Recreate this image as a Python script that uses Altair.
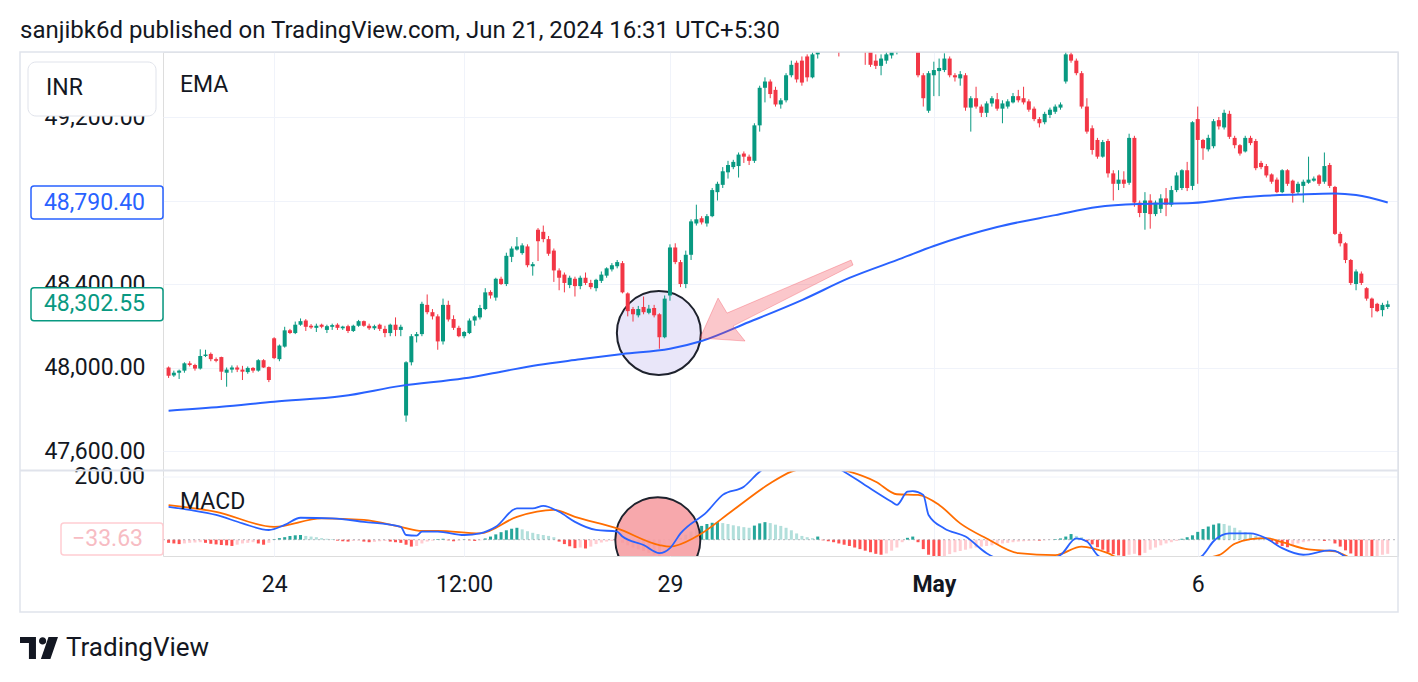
import altair as alt
import pandas as pd

# ---------------- data (15-minute candles, Apr 23 - May 7) ----------------
opens = [
    # Apr 23
    48000, 47962, 47975, 47985, 48020, 48012, 47995, 48055, 48065, 48040,
    48050, 47975, 47990, 48000, 47990, 47978, 47998, 47985, 48035, 48002,
    # Apr 24
    48140, 48040, 48100, 48178, 48165, 48205, 48225, 48200, 48190, 48205,
    48180, 48195, 48205, 48188, 48198, 48175, 48200, 48222, 48200, 48188,
    48205, 48185, 48165, 48205, 48180,
    # Apr 25
    47770, 48025, 48150, 48160, 48300, 48265, 48245, 48125, 48300, 48232,
    48190, 48150, 48165, 48225, 48240, 48280, 48362, 48335, 48425, 48400,
    48530, 48565, 48548, 48580, 48485,
    # Apr 26
    48660, 48650, 48615, 48560, 48465, 48445, 48395, 48425, 48390, 48430,
    48405, 48380, 48415, 48440, 48470, 48485, 48500, 48355, 48280, 48250,
    48290, 48262, 48285, 48255, 48145,
    # Apr 29
    48345, 48575, 48505, 48400, 48540, 48690, 48715, 48690, 48725, 48840,
    48875, 48935, 48960, 48965, 49025, 49010, 48990, 49160, 49340, 49370,
    49330, 49260, 49280, 49400, 49460,
    # Apr 30
    49470, 49490, 49390, 49500, 49540, 49580, 49600, 49590, 49560, 49600,
    49620, 49600, 49580, 49530, 49470, 49445, 49470, 49495, 49520, 49560,
    49580, 49570, 49520, 49400, 49230,
    # May 2
    49400, 49420, 49425, 49480, 49400, 49385, 49400, 49245, 49290, 49250,
    49220, 49265, 49285, 49240, 49250, 49270, 49300, 49290, 49275, 49240,
    49190, 49175, 49210, 49225, 49245,
    # May 3
    49370, 49500, 49470, 49410, 49250, 49146, 49090, 49010, 49085, 48930,
    48880, 48900, 48885, 49100, 48790, 48740, 48800, 48735, 48760, 48810,
    48780, 48850, 48860, 48945, 48870,
    # May 6
    49190, 49090, 49045, 49060, 49185, 49150, 49215, 49100, 49065, 49035,
    49100, 49085, 48980, 48965, 48925, 48900, 48840, 48945, 48895, 48840,
    48870, 48885, 48895, 48920, 48890,
    # May 7
    48970, 48865, 48640, 48595, 48515, 48400, 48450, 48380, 48330, 48305,
    48275, 48290,
]
highs = [
    48005, 47985, 47990, 48025, 48030, 48018, 48087, 48085, 48072, 48048,
    48052, 48000, 48010, 48010, 48008, 48005, 48002, 48040, 48040, 48005,
    48145, 48110, 48195, 48185, 48220, 48235, 48232, 48208, 48210, 48210,
    48205, 48210, 48212, 48200, 48205, 48205, 48228, 48225, 48210, 48205,
    48210, 48200, 48210, 48240, 48205,
    48030, 48160, 48170, 48315, 48350, 48280, 48255, 48330, 48320, 48250,
    48200, 48175, 48235, 48250, 48300, 48380, 48370, 48430, 48435, 48550,
    48580, 48625, 48595, 48590, 48505,
    48668, 48680, 48630, 48570, 48475, 48455, 48440, 48435, 48440, 48455,
    48420, 48425, 48460, 48480, 48500, 48515, 48510, 48360, 48290, 48295,
    48340, 48300, 48300, 48260, 48345,
    48590, 48595, 48515, 48560, 48710, 48780, 48725, 48735, 48860, 48890,
    48960, 48990, 48995, 49030, 49035, 49020, 49170, 49350, 49390, 49380,
    49345, 49290, 49410, 49470, 49470,
    49490, 49500, 49560, 49600, 49610, 49630, 49640, 49620, 49620, 49650,
    49660, 49630, 49600, 49560, 49500, 49500, 49520, 49540, 49590, 49610,
    49620, 49600, 49540, 49410, 49420,
    49465, 49480, 49505, 49490, 49410, 49420, 49410, 49300, 49345, 49260,
    49275, 49300, 49315, 49280, 49285, 49315, 49330, 49345, 49285, 49250,
    49200, 49225, 49245, 49260, 49270,
    49560, 49560, 49480, 49420, 49290, 49160, 49100, 49090, 49095, 48945,
    48945, 48940, 49120, 49110, 48800, 48840, 48830, 48800, 48830, 48860,
    48870, 48935, 48950, 48985, 49180,
    49250, 49095, 49115, 49190, 49200, 49235, 49230, 49110, 49070, 49110,
    49110, 49095, 48990, 48975, 48930, 48910, 48950, 48950, 48900, 48890,
    48900, 49010, 48915, 48925, 49030,
    48980, 48870, 48650, 48600, 48520, 48470, 48460, 48385, 48335, 48310,
    48310, 48320,
]
lows = [
    47950, 47955, 47945, 47975, 48005, 47985, 47990, 48050, 48030, 48025,
    47940, 47908, 47975, 47978, 47940, 47970, 47975, 47980, 47998, 47930,
    48040, 48030, 48095, 48160, 48160, 48200, 48175, 48185, 48170, 48188,
    48165, 48180, 48180, 48180, 48165, 48170, 48195, 48195, 48180, 48180,
    48175, 48145, 48150, 48150, 48150,
    47740, 48010, 48120, 48150, 48255, 48230, 48085, 48110, 48220, 48180,
    48145, 48140, 48160, 48200, 48230, 48275, 48330, 48320, 48395, 48390,
    48505, 48560, 48540, 48480, 48440,
    48510, 48600, 48535, 48410, 48370, 48360, 48380, 48340, 48375, 48395,
    48375, 48365, 48405, 48430, 48460, 48475, 48355, 48245, 48220, 48240,
    48255, 48255, 48240, 48090, 48140,
    48320, 48495, 48385, 48380, 48515, 48680, 48685, 48675, 48720, 48800,
    48860, 48905, 48950, 48910, 48980, 48970, 48980, 49130, 49270, 49290,
    49250, 49240, 49270, 49390, 49365,
    49350, 49370, 49385, 49480, 49525, 49550, 49560, 49490, 49540, 49580,
    49580, 49550, 49450, 49440, 49430, 49400, 49455, 49480, 49500, 49540,
    49540, 49510, 49390, 49250, 49220,
    49300, 49300, 49415, 49390, 49370, 49350, 49230, 49130, 49240, 49200,
    49200, 49250, 49230, 49170, 49240, 49265, 49270, 49260, 49225, 49180,
    49150, 49165, 49195, 49215, 49235,
    49360, 49460, 49400, 49240, 49120, 49020, 49000, 49005, 48910, 48800,
    48850, 48860, 48875, 48770, 48720, 48660, 48665, 48725, 48740, 48725,
    48770, 48840, 48850, 48845, 48850,
    48880, 48995, 49035, 49050, 49140, 49140, 49095, 49050, 49015, 49030,
    49065, 48945, 48950, 48910, 48880, 48835, 48835, 48870, 48790, 48830,
    48790, 48880, 48890, 48870, 48880,
    48860, 48635, 48580, 48500, 48395, 48370, 48395, 48320, 48240, 48265,
    48245, 48280,
]
closes = [
    47960, 47975, 47985, 48020, 48012, 47995, 48055, 48062, 48040, 48032,
    47980, 47990, 48000, 47990, 47980, 47998, 47985, 48035, 48000, 47940,
    48045, 48105, 48178, 48165, 48205, 48222, 48195, 48192, 48200, 48195,
    48198, 48203, 48190, 48196, 48175, 48200, 48222, 48200, 48188, 48198,
    48185, 48165, 48205, 48180, 48195,
    48025, 48150, 48160, 48305, 48265, 48245, 48125, 48300, 48230, 48190,
    48150, 48170, 48225, 48245, 48285, 48360, 48345, 48425, 48400, 48535,
    48570, 48580, 48585, 48490, 48495,
    48605, 48615, 48545, 48465, 48430, 48405, 48430, 48390, 48430, 48405,
    48385, 48420, 48445, 48475, 48490, 48505, 48360, 48270, 48255, 48280,
    48265, 48282, 48250, 48145, 48330,
    48575, 48505, 48400, 48540, 48700, 48710, 48695, 48725, 48850, 48880,
    48940, 48970, 48985, 49020, 49010, 48990, 49160, 49340, 49370, 49310,
    49260, 49280, 49400, 49450, 49380,
    49365, 49390, 49500, 49540, 49580, 49600, 49590, 49560, 49600, 49620,
    49600, 49580, 49540, 49450, 49445, 49480, 49500, 49520, 49560, 49580,
    49570, 49540, 49400, 49290, 49410,
    49425, 49435, 49480, 49400, 49390, 49405, 49245, 49290, 49250, 49220,
    49265, 49290, 49240, 49265, 49275, 49300, 49280, 49270, 49235, 49190,
    49170, 49215, 49235, 49250, 49260,
    49500, 49470, 49410, 49250, 49130, 49042, 49010, 49080, 48930, 48880,
    48900, 48880, 49100, 48790, 48740, 48800, 48735, 48790, 48810, 48780,
    48850, 48920, 48945, 48860, 49175,
    49090, 49050, 49100, 49180, 49155, 49220, 49105, 49065, 49025, 49100,
    49075, 48955, 48960, 48920, 48890, 48840, 48945, 48880, 48835, 48880,
    48890, 48900, 48905, 48880, 48965,
    48870, 48640, 48595, 48515, 48405, 48460, 48405, 48330, 48285, 48270,
    48300, 48302.55,
]

# EMA (read at selected bars)
ema_idx = [0, 10, 20, 33, 44, 56, 63, 70, 78, 86, 95, 101, 110, 120, 129, 139,
           145, 157, 168, 176, 184, 194, 204, 214, 221, 225, 231]
ema_val = [47793, 47812, 47836, 47863, 47912, 47948, 47980, 48012, 48039, 48065,
           48090, 48127, 48218, 48323, 48429, 48524, 48582, 48673, 48730, 48769,
           48783, 48788, 48817, 48829, 48834, 48826, 48790.4]

# MACD line and signal line (read at selected bars)
macd_idx = [0, 4, 9, 14, 19, 22, 25, 31, 37, 44, 45, 47, 48, 51, 56, 59, 62, 66,
            69, 71, 74, 77, 81, 85, 86, 90, 93, 95, 97, 102, 105, 109, 112, 116,
            120, 124, 128, 132, 137, 138, 140, 141, 143, 144, 147, 151, 155, 160,
            165, 169, 172, 174, 176, 180, 186, 192, 196, 198, 201, 205, 208, 211,
            215, 220, 221, 223, 226, 231]
macd_val = [105, 95, 79, 52, 31, 47, 70, 68, 57, 41, 15, 13, 26, 26, 15, 20, 41,
            100, 100, 108, 89, 57, 31, 26, 10, -17, -43, -27, 20, 89, 143, 169,
            217, 250, 262, 250, 217, 174, 121, 111, 153, 155, 143, 79, 36, 10,
            -43, -75, -70, -49, 4, -6, -49, -80, -95, -80, -49, -5, 20, 20, 4,
            -27, -48, -34, -36, -54, -75, -95]
signal_idx = [0, 9, 20, 29, 37, 44, 48, 51, 59, 66, 73, 77, 85, 93, 95, 100, 107,
              114, 118, 123, 129, 134, 138, 142, 146, 150, 155, 161, 168, 173, 178,
              180, 189, 199, 202, 205, 208, 211, 216, 221, 224, 231]
signal_val = [110, 89, 41, 68, 63, 41, 28, 28, 20, 73, 95, 73, 36, -17, -22, 10,
              95, 180, 217, 235, 217, 185, 145, 143, 111, 52, 4, -43, -49, -22,
              -43, -58, -75, -49, -13, 2, 5, -8, -31, -37, -58, -75]

# MACD histogram, one value per bar
hist_val = [
    -10, -12, -14, -12, -10, -9, -8, -10, -13, -15, -17, -18, -20, -16, -12, -10, -8, -12, -16, -10,
    2, 5, 8, 12, 14, 15, 12, 10, 8, 5, 3, 2,
    -3, -5, -6, -4, -3, -6, -8, -7, -5, -4, -6, -8, -10,
    -16, -22, -20,
    -12, -6, -3, 2, 3, -2, -5, -3, 1, -2, -4, -2,
    4, 10, 17, 24, 30, 35, 38,
    33, 27, 22, 18, 15, 12, 8,
    -6, -14, -21, -27, -25, -28, -22,
    -14, -9, -6, -4, -3,
    -10, -18, -25, -31, -36, -42, -48, -52, -45,
    -25, -10,
    6, 16, 26, 36, 44, 50, 54, 56, 53, 50, 46, 43, 40, 38, 45, 52, 56, 53, 48, 44,
    38, 30, 20, 12, 8, 5, 10,
    -2, -5, -8, -12, -16, -20, -25, -30, -35, -40, -45, -48, -44, -35, -25, -8, 6, 10, -8, -30, -48,
    -55, -58, -52, -46, -40, -36, -32, -28,
    -25, -22, -20, -18, -15, -12, -10, -8, -6, -5, -4, -3, -3, -2,
    -1, 2, 4,
    10, 18, 12, 8,
    -6, -15, -24, -32, -40, -46, -50,
    -52, -48, -45, -50, -42, -32,
    -25, -18, -12, -8, -4,
    3, 8, 14,
    25, 34, 42, 48, 52, 50, 45, 38, 30,
    24, 18, 12, 7, 3,
    -6, -14, -20, -24, -18, -12,
    -8, -5, -3, -2, -4, -3,
    -12, -22, -34, -44, -52, -58, -55, -56, -52, -48, -45,
]

price_ticks = [47600, 48000, 48400, 48800, 49200]
macd_ticks = [200]
time_idx = [20, 56, 95, 145, 195]
time_lab = ["24", "12:00", "29", "May", "6"]

ema_last = 48790.40
close_last = 48302.55
hist_label = "\u221233.63"

circle_idx, circle_price = 92.9, 48165
mcircle_idx, mcircle_val = 92.7, 0
arrow_idx, arrow_price = 115.1, 48323

title_text = "sanjibk6d published on TradingView.com, Jun 21, 2024 16:31 UTC+5:30"

# ---------------- styling ----------------
W, H = 1235, 504
GREEN, RED = "#089981", "#f23645"
BLUE, ORANGE = "#2962ff", "#ff6d00"
TXT = "#131722"
GRID = "#f0f3fa"
FONT = "Roboto"
FS = 23  # scale / label font size

n = len(closes)
cdf = pd.DataFrame({"i": list(range(n)), "o": opens, "h": highs, "l": lows, "c": closes})
cdf["dir"] = ["up" if c >= o else "down" for o, c in zip(opens, closes)]

hcols = []
for k, v in enumerate(hist_val):
    p = hist_val[k - 1] if k > 0 else v
    if v >= 0:
        hcols.append("#26a69a" if v > p else "#b2dfdb")
    else:
        hcols.append("#ffcdd2" if v > p else "#ff5252")
hdf = pd.DataFrame({"i": list(range(len(hist_val))), "v": hist_val, "col": hcols})

edf = pd.DataFrame({"i": ema_idx, "v": ema_val})
mdf = pd.DataFrame({"i": macd_idx, "v": macd_val})
sdf = pd.DataFrame({"i": signal_idx, "v": signal_val})

xs = alt.Scale(domain=[-0.11, 232.0], nice=False, zero=False)
ps = alt.Scale(domain=[47097.0, 49511.4], nice=False, zero=False)
ms = alt.Scale(domain=[-52.0, 1555.7], nice=False, zero=False)

label_expr = " : ".join(f"datum.value == {v} ? '{t}'" for v, t in zip(time_idx, time_lab)) + " : ''"
xaxis = alt.Axis(values=time_idx, labelExpr=label_expr, grid=True, gridColor=GRID, gridWidth=1,
                 domain=False, ticks=False, tickSize=0, labelPadding=17, labelFontSize=FS,
                 labelColor=TXT, labelFont=FONT, title=None, labelOverlap=False, labelFlush=False,
                 labelFontWeight={"condition": {"test": "datum.value == 145", "value": "bold"},
                                  "value": "normal"},
                 zindex=0)
pax = alt.Axis(values=price_ticks, format=",.2f", grid=True, gridColor=GRID, gridWidth=1,
               domain=False, ticks=False, tickSize=0, labelPadding=18, labelFontSize=FS,
               labelColor=TXT, labelFont=FONT, title=None, labelOverlap=False, labelFlush=False,
               zindex=0)


def X(f):
    return alt.X(f, type="quantitative", scale=xs, axis=xaxis)


def PY(f):
    return alt.Y(f, type="quantitative", scale=ps, axis=pax)


def MY(f):
    return alt.Y(f, type="quantitative", scale=ms, axis=None)


def one(**kw):
    return pd.DataFrame({k: [v] for k, v in kw.items()})


# ---------------- MACD pane ----------------
grid200 = alt.Chart(pd.DataFrame({"v": macd_ticks})).mark_rule(color=GRID, strokeWidth=1).encode(
    y=MY("v"), x=alt.value(0), x2=alt.value(W))
hist = alt.Chart(hdf).mark_bar(size=3, clip=True).encode(
    x=X("i"), y=MY("v"), y2=alt.datum(0), color=alt.Color("col:N", scale=None, legend=None))
zero = alt.Chart(one(v=0)).mark_rule(color="#9598a1", strokeWidth=1, strokeDash=[2, 3], opacity=0.7).encode(
    y=MY("v"), x=alt.value(0), x2=alt.value(W))
mcirc = alt.Chart(one(i=mcircle_idx, v=mcircle_val)).mark_point(
    shape="circle", size=7225, filled=True, fill="#f7a3a8", fillOpacity=0.95,
    stroke="#1e222d", strokeWidth=2, opacity=1, clip=True).encode(x=X("i"), y=MY("v"))
sig_line = alt.Chart(sdf).mark_line(color=ORANGE, strokeWidth=1.8, interpolate="monotone", clip=True).encode(
    x=X("i"), y=MY("v"))
macd_line = alt.Chart(mdf).mark_line(color=BLUE, strokeWidth=1.8, interpolate="monotone", clip=True).encode(
    x=X("i"), y=MY("v"))
lab200 = alt.Chart(pd.DataFrame({"v": macd_ticks, "t": [f"{t:.2f}" for t in macd_ticks]})).mark_text(
    align="right", baseline="middle", fontSize=FS, font=FONT, color=TXT).encode(
    x=alt.value(-18), y=MY("v"), text="t:N")

macd_group = alt.layer(grid200, hist, zero, mcirc, sig_line, macd_line, lab200)

# ---------------- price pane ----------------
mask = alt.Chart(one(a=105, b=135)).mark_rect(color="white").encode(
    x=X("a"), x2="b", y=alt.value(400), y2=alt.value(418))
pcirc = alt.Chart(one(i=circle_idx, p=circle_price)).mark_point(
    shape="circle", size=7056, filled=True, fill="#e9e6f9", fillOpacity=1,
    stroke="#1e222d", strokeWidth=2, opacity=1).encode(x=X("i"), y=PY("p"))
ccol = alt.Color("dir:N", scale=alt.Scale(domain=["up", "down"], range=[GREEN, RED]), legend=None)
wick = alt.Chart(cdf).mark_rule(strokeWidth=1, clip=True).encode(
    x=X("i"), y=PY("l"), y2="h", color=ccol)
body = alt.Chart(cdf).mark_bar(size=4, clip=True).encode(
    x=X("i"), y=PY("o"), y2="c", color=ccol)
ema = alt.Chart(edf).mark_line(color=BLUE, strokeWidth=2, interpolate="monotone", clip=True).encode(
    x=X("i"), y=PY("v"))
ARROW = ("M0.987,-0.526 L-0.645,0.171 L-0.763,-0.026 L-1,0.5 L-0.408,0.539 "
         "L-0.566,0.342 L1.013,-0.461 Z")
arrow = alt.Chart(one(i=arrow_idx, p=arrow_price)).mark_point(
    shape=ARROW, size=23104, filled=True, fill=RED, fillOpacity=0.28,
    stroke=RED, strokeOpacity=0.3, strokeWidth=1, opacity=1).encode(x=X("i"), y=PY("p"))

half = 16.5 / 0.20875  # box half-height in price units
boxes_df = pd.DataFrame({"v": [ema_last, close_last],
                         "t": [f"{ema_last:,.2f}", f"{close_last:,.2f}"],
                         "col": [BLUE, GREEN]})
box_rect = alt.Chart(boxes_df).transform_calculate(
    lo=f"datum.v - {half}", hi=f"datum.v + {half}").mark_rect(
    fill="white", strokeWidth=1.5, cornerRadius=3).encode(
    x=alt.value(-132), x2=alt.value(0), y=PY("lo"), y2="hi",
    stroke=alt.Stroke("col:N", scale=None, legend=None))
box_text = alt.Chart(boxes_df).mark_text(align="right", baseline="middle", fontSize=FS, font=FONT).encode(
    x=alt.value(-18), y=PY("v"), text="t:N", color=alt.Color("col:N", scale=None, legend=None))

price_group = alt.layer(mask, pcirc, wick, body, ema, arrow, box_rect, box_text)


# ---------------- overlays (pixel placed decorations) ----------------
def txt(s, x, y, size=FS, color=TXT, align="left", weight="normal"):
    return alt.Chart(one(t=s)).mark_text(align=align, baseline="middle", fontSize=size, font=FONT,
                                          color=color, fontWeight=weight).encode(
        x=alt.value(x), y=alt.value(y), text="t:N")


def rect(x, x2, y, y2, **kw):
    return alt.Chart(one(a=0)).mark_rect(**kw).encode(
        x=alt.value(x), x2=alt.value(x2), y=alt.value(y), y2=alt.value(y2))


LOGO = ("M-1,-0.58 L-0.16,-0.58 L-0.16,0.58 L-0.53,0.58 L-0.53,-0.26 L-1,-0.26 Z "
        "M0.0,-0.37 A0.19,0.19 0 1,0 0.38,-0.37 A0.19,0.19 0 1,0 0.0,-0.37 Z "
        "M0.5,-0.58 L1,-0.58 L0.6,0.58 L0.1,0.58 Z")
logo = alt.Chart(one(a=0)).mark_point(shape=LOGO, size=1444, filled=True, fill=TXT, opacity=1,
                                      strokeWidth=0).encode(x=alt.value(-124), y=alt.value(596))

overlays = alt.layer(
    rect(-135, -7, 10, 64, fill="white", stroke="#e0e3eb", strokeWidth=1, cornerRadius=8),
    txt("INR", -117, 36),
    txt("EMA", 17, 33),
    txt("MACD", 17, 450),
    rect(-102, 0, 471, 503, fill="white", stroke="#ffcdd2", strokeWidth=1.5, cornerRadius=3),
    txt(hist_label, -20, 487, color="#f7bcc3", align="right"),
    rect(-143, W, 417.5, 419.5, fill="#e0e3eb"),
    rect(-143, W, 0, 560, fill="white", fillOpacity=0, stroke="#e0e3eb", strokeWidth=1.5),
    txt(title_text, -143, -21, size=24),
    logo,
    txt("TradingView", -97, 596, size=26),
)

chart = alt.layer(macd_group, price_group, overlays).resolve_scale(y="independent").properties(
    width=W, height=H,
    autosize=alt.AutoSizeParams(type="none"),
    padding={"left": 163, "top": 52, "right": 20, "bottom": 126},
    background="white",
).configure_view(strokeWidth=0).configure(font=FONT)

chart.save("out.html", embed_options={"renderer": "svg", "actions": False})
